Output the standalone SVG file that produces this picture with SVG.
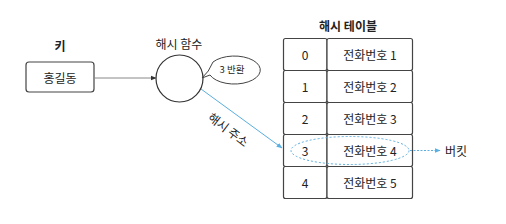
<svg xmlns="http://www.w3.org/2000/svg" width="506" height="224" viewBox="0 0 506 224">
<defs>
<style>
text{font-family:"Noto Sans CJK KR","Noto Sans",sans-serif;font-size:12px;fill:#222;text-anchor:middle;dominant-baseline:central}
.b{font-weight:bold}
.cell{fill:#fff;stroke:#444;stroke-width:1.2}
.blue{stroke:#5aaee0;fill:none;stroke-width:1}
</style>
<marker id="ag" viewBox="0 0 10 10" refX="9" refY="5" markerWidth="6" markerHeight="6" orient="auto"><path d="M0,1 L10,5 L0,9 z" fill="#333"/></marker>
<marker id="ab" viewBox="0 0 10 10" refX="9" refY="5" markerWidth="6" markerHeight="6" orient="auto"><path d="M0,1 L10,5 L0,9 z" fill="#5aaee0"/></marker>
</defs>
<rect width="506" height="224" fill="#fff"/>
<g id="key">
<text x="60" y="45" class="b">키</text>
<rect x="26" y="62" width="68" height="30" rx="3" class="cell"/>
<text x="60" y="77">홍길동</text>
</g>
<g id="hash-func">
<text x="179" y="43">해시 함수</text>
<circle cx="179.5" cy="78.5" r="23.5" fill="#fff" stroke="#333" stroke-width="1.2"/>
</g>
<g id="bubble">
<path d="M210,75 A26,14 0 1 0 213,62 Q209,72 202,78 Z" fill="#fff" stroke="#444" stroke-width="1"/>
<text x="232" y="69" style="font-size:9.5px">3 반환</text>
</g>
<g id="table">
<text x="348" y="25" class="b">해시 테이블</text>
<g id="row0"><rect x="283.5" y="38.5" width="43.5" height="32" rx="2" class="cell"/><rect x="327" y="38.5" width="85.5" height="32" rx="2" class="cell"/><text x="305" y="54.5">0</text><text x="370" y="54.5">전화번호 1</text></g>
<g id="row1"><rect x="283.5" y="70.5" width="43.5" height="32" rx="2" class="cell"/><rect x="327" y="70.5" width="85.5" height="32" rx="2" class="cell"/><text x="305" y="86.5">1</text><text x="370" y="86.5">전화번호 2</text></g>
<g id="row2"><rect x="283.5" y="102.5" width="43.5" height="32" rx="2" class="cell"/><rect x="327" y="102.5" width="85.5" height="32" rx="2" class="cell"/><text x="305" y="118.5">2</text><text x="370" y="118.5">전화번호 3</text></g>
<g id="row3"><rect x="283.5" y="134.5" width="43.5" height="32" rx="2" class="cell"/><rect x="327" y="134.5" width="85.5" height="32" rx="2" class="cell"/><text x="305" y="150.5">3</text><text x="370" y="150.5">전화번호 4</text></g>
<g id="row4"><rect x="283.5" y="166.5" width="43.5" height="32" rx="2" class="cell"/><rect x="327" y="166.5" width="85.5" height="32" rx="2" class="cell"/><text x="305" y="182.5">4</text><text x="370" y="182.5">전화번호 5</text></g>
</g>
<g id="bucket">
<ellipse cx="350" cy="150.5" rx="59" ry="14" class="blue" stroke-dasharray="2,2"/>
<text x="456" y="150.5">버킷</text>
</g>
<g id="connectors">
<line x1="94" y1="78" x2="156" y2="78" stroke="#888" stroke-width="1" marker-end="url(#ag)"/>
<line x1="201" y1="89" x2="282" y2="148" class="blue" marker-end="url(#ab)"/>
<line x1="410" y1="150.5" x2="440" y2="150.5" class="blue" stroke-dasharray="2,1.5" marker-end="url(#ab)"/>
<text x="229" y="129" transform="rotate(37 229 129)">해시 주소</text>
</g>
</svg>
